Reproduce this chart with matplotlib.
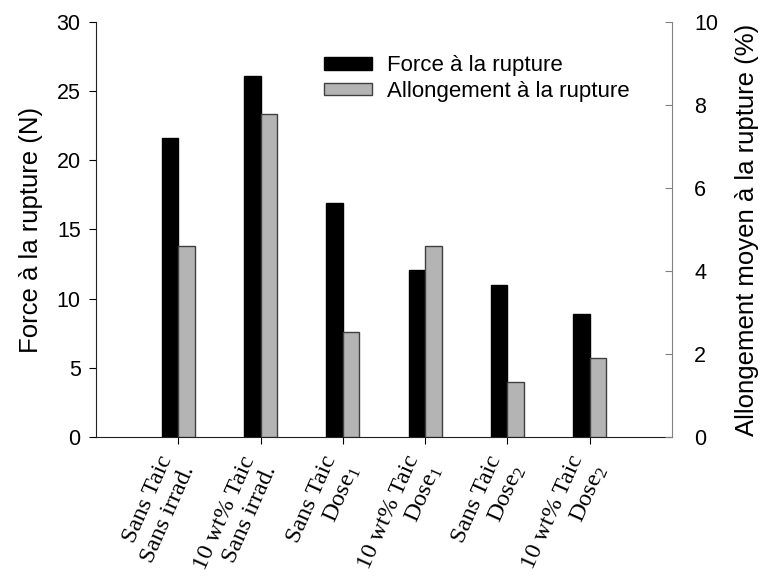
import matplotlib
matplotlib.use("Agg")
import matplotlib.pyplot as plt
import numpy as np

plt.rcParams["font.family"] = "Liberation Sans"
plt.rcParams["mathtext.fontset"] = "custom"
plt.rcParams["mathtext.rm"] = "Liberation Serif"
plt.rcParams["mathtext.it"] = "Liberation Serif:italic"

labels = ["Sans Taic\nSans irrad.", "10 wt% Taic\nSans irrad.",
          "Sans Taic\nDose$_{\\mathit{1}}$", "10 wt% Taic\nDose$_{\\mathit{1}}$",
          "Sans Taic\nDose$_2$", "10 wt% Taic\nDose$_2$"]
force = [21.6, 26.1, 16.9, 12.1, 11.0, 8.9]
allongement = [4.6, 7.78, 2.53, 4.6, 1.31, 1.9]

fig = plt.figure(figsize=(7.62, 5.86), dpi=100)
ax = fig.add_axes([0.1260, 0.2548, 0.756, 0.7072])
ax2 = ax.twinx()

x = np.arange(len(labels))
w = 0.2
b1 = ax.bar(x - w / 2, force, w, color="black", edgecolor="black", linewidth=1,
            label="Force à la rupture")
b2 = ax2.bar(x + w / 2, allongement, w, color="#b4b4b4", edgecolor="#404040", linewidth=1,
             label="Allongement à la rupture")

ax.set_xlim(-1, 6)
ax.set_ylim(0, 30)
ax2.set_ylim(0, 10)
ax.set_yticks(range(0, 31, 5))
ax2.set_yticks(range(0, 11, 2))
ax.set_xticks(x)
ax.set_xticklabels(labels, rotation=66, ha="right", va="center", rotation_mode="anchor",
                   family="Liberation Serif", fontsize=17.5, multialignment="right")

ax.spines["top"].set_visible(False)
ax2.spines["top"].set_visible(False)
ax2.spines["left"].set_visible(False)
ax2.spines["bottom"].set_visible(False)
ax.spines["right"].set_visible(False)
ax2.spines["right"].set_color("#808080")
for s in ["left", "bottom"]:
    ax.spines[s].set_color("#202020")

ax.tick_params(axis="y", direction="out", length=5, labelsize=15.5, pad=6)
ax.tick_params(axis="x", direction="out", length=5, pad=13)
ax2.tick_params(axis="y", direction="in", length=5, labelsize=15.5, color="#808080", pad=16)

ax.set_ylabel("Force à la rupture (N)", fontsize=18.5, labelpad=10)
ax2.set_ylabel("Allongement moyen à la rupture (%)", fontsize=18.5, labelpad=12)

fig.legend(handles=[b1, b2], loc="upper left", bbox_to_anchor=(0.399, 0.94),
           frameon=False, fontsize=16, handlelength=2.16, handleheight=0.5,
           handletextpad=0.68, labelspacing=0.22)

fig.savefig("out.png", dpi=100)
